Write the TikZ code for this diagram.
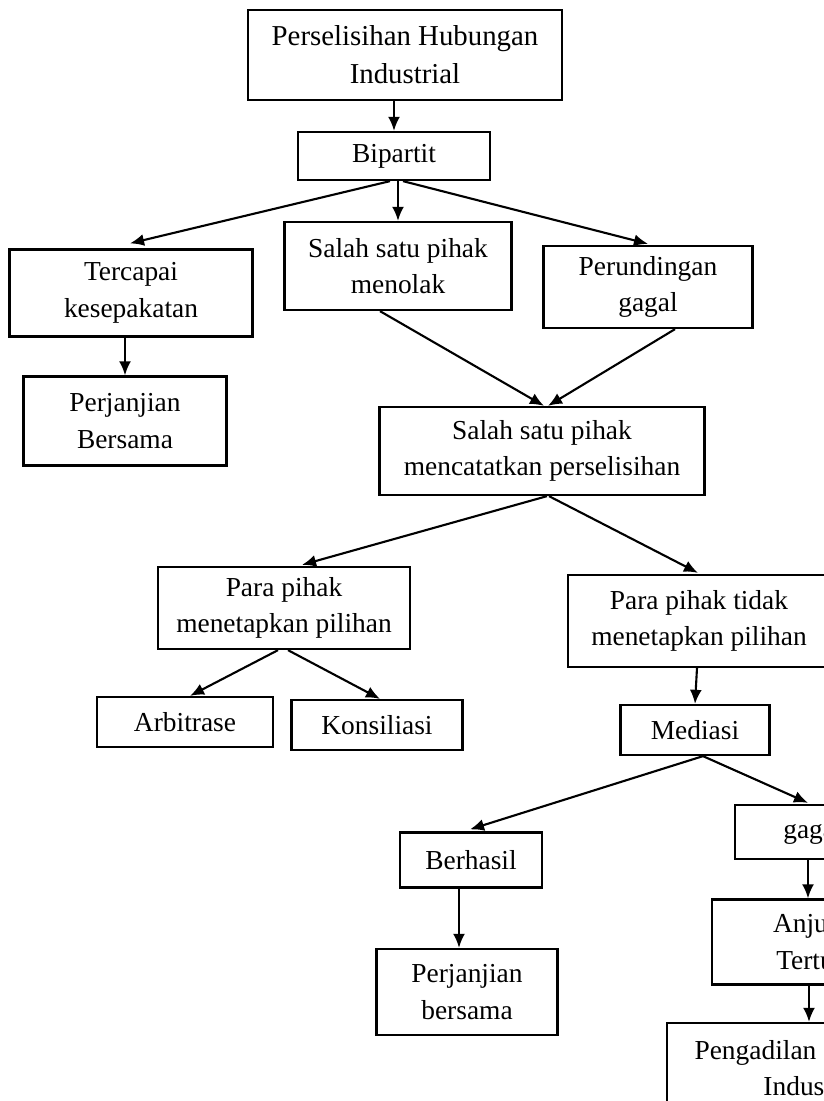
\documentclass[tikz,border=0pt]{standalone}
\usepackage{fontspec}
\setmainfont{Liberation Serif}
\usepackage{tikz}
\usetikzlibrary{shapes,arrows.meta,positioning,calc}
\tikzset{rect/.style={
    draw,
    rectangle,
    line width=1.6pt,
    inner sep=0pt,
    align=center,
    font=\fontsize{19.5}{26}\selectfont,
  }}
\tikzset{lower/.style={
    execute at begin node={\rule{0pt}{24pt}},
  }}
\tikzset{arr/.style={
    -{Latex[length=10pt,width=8.5pt]},
    line width=1.5pt,
  }}

\begin{document}
\begin{tikzpicture}[x=0.025cm, y=-0.025cm]
        \useasboundingbox (0,0) rectangle (824,1101);
        \clip (0,0) rectangle (824,1101);

        \node (phi) [rect, minimum width=7.85cm, minimum height=2.25cm, font=\fontsize{20.5}{27}\selectfont] at (405,55) {Perselisihan Hubungan\\Industrial};
        \node (bip) [rect, minimum width=4.8cm, minimum height=1.2cm] at (394,156) {Bipartit};

        \node (tolak) [rect, lower, minimum width=5.675cm, minimum height=2.2cm] at (398,266) {Salah satu pihak\\menolak};
        \node (capai) [rect, lower, minimum width=6.075cm, minimum height=2.175cm] at (131,293) {Tercapai\\kesepakatan};
        \node (runding) [rect, lower, minimum width=5.225cm, minimum height=2.05cm] at (648,287) {Perundingan\\gagal};
        \node (pjb) [rect, lower, minimum width=5.075cm, minimum height=2.225cm] at (125,421) {Perjanjian\\Bersama};

        \node (catat) [rect, lower, minimum width=8.125cm, minimum height=2.2cm] at (542,451) {Salah satu pihak\\mencatatkan perselisihan};
        \node (tetap) [rect, lower, minimum width=6.3cm, minimum height=2.05cm] at (284,608) {Para pihak\\menetapkan pilihan};
        \node (tidak) [rect, lower, minimum width=6.55cm, minimum height=2.3cm] at (699,621) {Para pihak tidak\\menetapkan pilihan};

        \node (arb) [rect, minimum width=4.4cm, minimum height=1.25cm] at (185,722) {Arbitrase};
        \node (kons) [rect, minimum width=4.275cm, minimum height=1.25cm] at (377,725) {Konsiliasi};
        \node (med) [rect, minimum width=3.725cm, minimum height=1.25cm] at (695,730) {Mediasi};

        \node (hasil) [rect, minimum width=3.55cm, minimum height=1.375cm] at (471,860) {Berhasil};
        \node (pjbmed) [rect, lower, minimum width=4.525cm, minimum height=2.15cm] at (467,992) {Perjanjian\\bersama};
        \node (gagal) [rect, minimum width=3.9cm, minimum height=1.35cm] at (813,832) {gagal};
        \node (anjur) [rect, lower, minimum width=5.3cm, minimum height=2.125cm] at (818,942) {Anjuran\\Tertulis};
        \node (phi2) [rect, minimum width=7.45cm, minimum height=2.25cm] at (816,1068) {Pengadilan Hubungan\\Industrial};

        \draw [arr] (phi.south -| bip) -- (bip.north);
        \draw [arr] ($(bip.south) + (-4,0)$) -- ($(capai.north) + (-1,-5)$);
        \draw [arr] ($(bip.south) + (4,0)$) -- (tolak.north);
        \draw [arr] ($(bip.south) + (9,0)$) -- ($(runding.north) + (0,-1)$);
        \draw [arr] (capai.south -| pjb.north) -- (pjb.north);

        \draw [arr] ($(tolak.south) + (-18,0)$) -- ($(catat.north) + (2,0)$);
        \draw [arr] ($(runding.south) + (27,0)$) -- ($(catat.north) + (6,0)$);

        \draw [arr] ($(catat.south) + (5,0)$) -- ($(tetap.north) + (18,-1)$);
        \draw [arr] ($(catat.south) + (7,0)$) -- ($(tidak.north) + (-1,-1)$);

        \draw [arr] ($(tetap.south) + (-6,0)$) -- ($(arb.north) + (5,0)$);
        \draw [arr] ($(tetap.south) + (4,0)$) -- ($(kons.north) + (3,0)$);
        \draw [arr] ($(tidak.south) + (-2,0)$) -- (med.north);

        \draw [arr] ($(med.south) + (8,0)$) -- ($(hasil.north) + (-1,-2)$);
        \draw [arr] ($(med.south) + (8,0)$) -- ($(gagal.north) + (-5,-1)$);
        \draw [arr] ($(hasil.south) + (-12,0)$) -- ($(pjbmed.north) + (-8,0)$);
        \draw [arr] ($(gagal.south) + (-5,0)$) -- ($(gagal.south |- anjur.north) + (-5,0)$);
        \draw [arr] ($(anjur.south) + (-9,0)$) -- ($(anjur.south |- phi2.north) + (-9,0)$);

\end{tikzpicture}
\end{document}
